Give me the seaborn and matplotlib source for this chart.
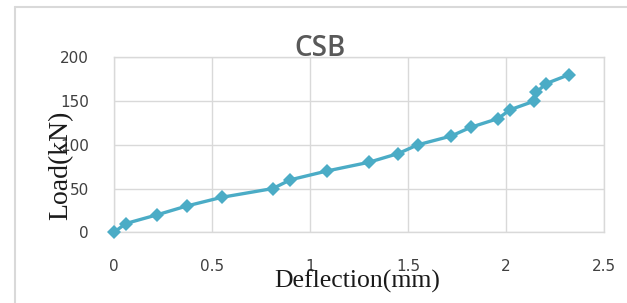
import matplotlib
matplotlib.use("Agg")
import matplotlib.pyplot as plt
import seaborn as sns
import pandas as pd
from matplotlib.lines import Line2D

deflection = [0, 0.06, 0.22, 0.37, 0.55, 0.81, 0.90, 1.085, 1.30, 1.45, 1.55,
              1.72, 1.82, 1.96, 2.02, 2.145, 2.155, 2.205, 2.32]
load = [0, 10, 20, 30, 40, 50, 60, 70, 80, 90, 100,
        110, 120, 130, 140, 150, 160, 170, 180]
x_ticks = [0, 0.5, 1, 1.5, 2, 2.5]
x_ticklabels = ["0", "0.5", "1", "1.5", "2", "2.5"]
y_ticks = [0, 50, 100, 150, 200]
y_ticklabels = ["0", "50", "100", "150", "200"]

df = pd.DataFrame({"Deflection": deflection, "Load": load})

sns.set_theme(style="white")
plt.rcParams["font.family"] = ["DejaVu Sans"]

fig = plt.figure(figsize=(6.27, 3.03), dpi=100)
ax = fig.add_axes([114 / 627, 1 - 232.3 / 303, 490 / 627, 175 / 303])

teal = "#4BACC6"
sns.lineplot(data=df, x="Deflection", y="Load", sort=False, ax=ax,
             color=teal, linewidth=2.4, marker="D", markersize=7.5,
             markeredgewidth=0, clip_on=False, zorder=3)

ax.set_xlim(0, 2.5)
ax.set_ylim(0, 200)
ax.set_xticks(x_ticks)
ax.set_xticklabels(x_ticklabels)
ax.set_yticks(y_ticks)
ax.set_yticklabels(y_ticklabels)
ax.tick_params(axis="both", length=0, labelsize=11, colors="#404040")
ax.tick_params(axis="x", pad=19)
ax.tick_params(axis="y", pad=18)
ax.grid(True, color="#d9d9d9", linewidth=1)
for s in ax.spines.values():
    s.set_color("#d9d9d9")
    s.set_linewidth(1)

ax.set_xlabel("Deflection(mm)", family="Liberation Serif", fontsize=18.5, color="#1a1a1a")
ax.set_ylabel("Load(kN)", family="Liberation Serif", fontsize=20, color="#1a1a1a")
ax.xaxis.set_label_coords(0.496, -0.215)
ax.yaxis.set_label_coords(-0.082, 0.38)

fig.text(320 / 627, 1 - 49 / 303, "CSB", ha="center", va="center",
         fontsize=20, color="#595959", family="Open Sans", fontweight="semibold")

# outer chart frame
fig.add_artist(Line2D([15 / 627, 15 / 627], [0, 1 - 7 / 303], color="#d9d9d9", lw=1.5,
                      transform=fig.transFigure))
fig.add_artist(Line2D([15 / 627, 1], [1 - 7 / 303, 1 - 7 / 303], color="#d9d9d9", lw=1.5,
                      transform=fig.transFigure))

fig.savefig("out.png", dpi=100)
